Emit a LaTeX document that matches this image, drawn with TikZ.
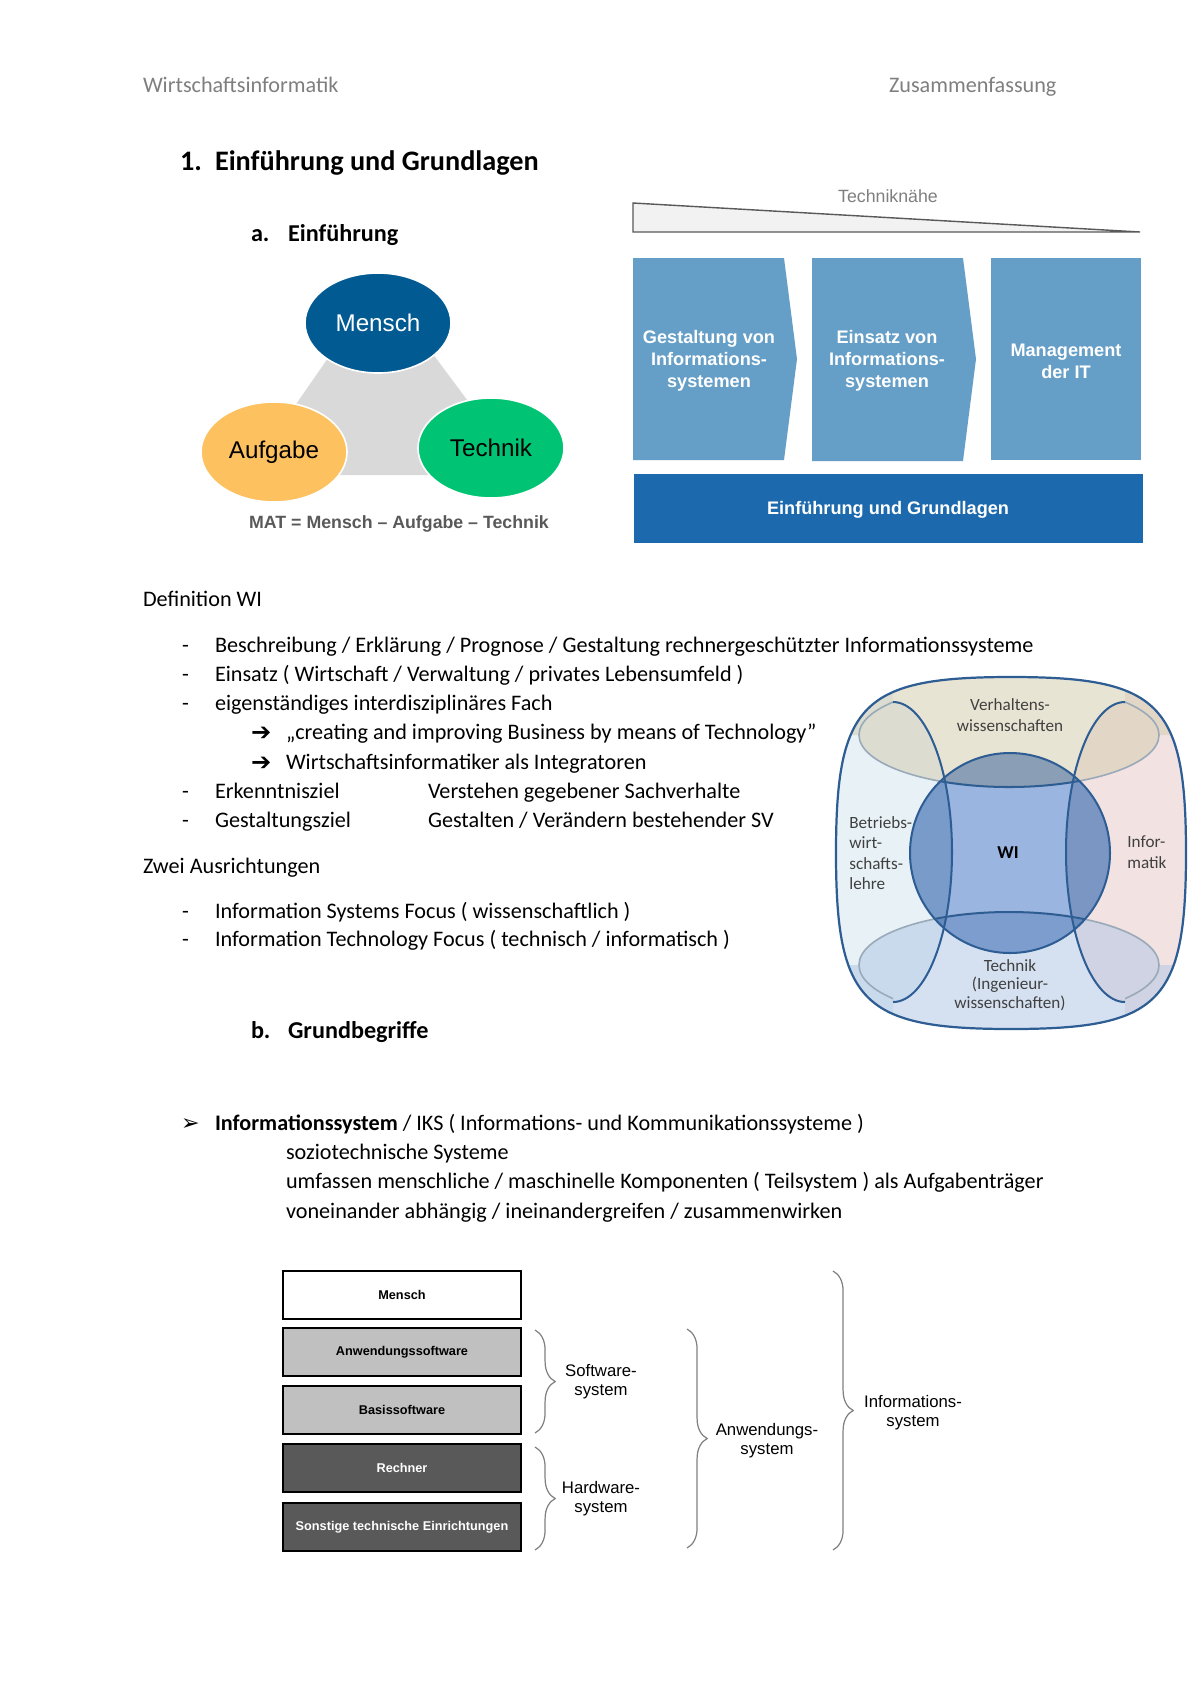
\documentclass[tikz,border=0pt]{standalone}
\usepackage{fontspec}
\setmainfont{Carlito}
\newfontfamily\arialf{Liberation Sans}
\newfontfamily\symf{DejaVu Sans}
\usetikzlibrary{shapes.geometric,decorations.pathreplacing}
\newcommand\pxu{0.4958pt}
\definecolor{hdrgray}{HTML}{7F7F7F}
\definecolor{menschblue}{HTML}{025A93}
\definecolor{aufgabeorange}{HTML}{FEC15F}
\definecolor{technikgreen}{HTML}{00C474}
\definecolor{trigray}{HTML}{D9D9D9}
\definecolor{matgray}{HTML}{595959}
\definecolor{boxblue}{HTML}{659FC7}
\definecolor{barblue}{HTML}{1C6AAD}
\definecolor{wedgefill}{HTML}{F2F2F2}
\definecolor{wedgeline}{HTML}{595959}
\definecolor{widark}{HTML}{2E5D94}
\definecolor{wilight}{HTML}{9AAAB8}
\definecolor{vwbeige}{HTML}{D3CBAB}
\definecolor{bwlblue}{HTML}{D1E5EF}
\definecolor{infpink}{HTML}{E7C7C7}
\definecolor{techblue}{HTML}{ADC5E5}
\definecolor{wicircle}{HTML}{5885CA}
\definecolor{vwdark}{HTML}{6E6A55}
\definecolor{witext}{HTML}{404040}
\definecolor{laygray}{HTML}{C0C0C0}
\definecolor{laydark}{HTML}{595959}
\definecolor{bracegray}{HTML}{808080}
\newcommand\wiouterpath{(1011,677) .. controls (1159.75,677) and (1186,703.4) .. (1186,853) .. controls (1186,1002.6) and (1159.75,1029) .. (1011,1029) .. controls (862.25,1029) and (836,1002.6) .. (836,853) .. controls (836,703.4) and (862.25,677) .. (1011,677) -- cycle}
\newcommand\topregion{(820,660) -- (1200,660) -- (1200,735) -- (1159,735) .. controls (1159,763.7) and (1091.8,787) .. (1009,787) .. controls (926.2,787) and (859,763.7) .. (859,735) -- (820,735) -- cycle}
\newcommand\botregion{(820,1045) -- (820,965) -- (859,965) .. controls (859,935.7) and (926.2,912) .. (1009,912) .. controls (1091.8,912) and (1159,935.7) .. (1159,965) -- (1200,965) -- (1200,1045) -- cycle}
\newcommand\leftregion{(820,660) -- (893,660) -- (893,702) .. controls (925.6,702) and (952,769.2) .. (952,852) .. controls (952,934.8) and (925.6,1002) .. (893,1002) -- (893,1045) -- (820,1045) -- cycle}
\newcommand\rightregion{(1200,660) -- (1125,660) -- (1125,702) .. controls (1092.4,702) and (1066,769.2) .. (1066,852) .. controls (1066,934.8) and (1092.4,1002) .. (1125,1002) -- (1125,1045) -- (1200,1045) -- cycle}
\newcommand\toparc{(1159,735) .. controls (1159,763.7) and (1091.8,787) .. (1009,787) .. controls (926.2,787) and (859,763.7) .. (859,735)}
\newcommand\toparcup{(859,735) .. controls (859,706.3) and (926.2,683) .. (1009,683) .. controls (1091.8,683) and (1159,706.3) .. (1159,735)}
\newcommand\botarc{(859,965) .. controls (859,935.7) and (926.2,912) .. (1009,912) .. controls (1091.8,912) and (1159,935.7) .. (1159,965)}
\newcommand\botarcdown{(1159,965) .. controls (1159,994.3) and (1091.8,1018) .. (1009,1018) .. controls (926.2,1018) and (859,994.3) .. (859,965)}
\newcommand\leftarc{(893,702) .. controls (925.6,702) and (952,769.2) .. (952,852) .. controls (952,934.8) and (925.6,1002) .. (893,1002)}
\newcommand\rightarc{(1125,702) .. controls (1092.4,702) and (1066,769.2) .. (1066,852) .. controls (1066,934.8) and (1092.4,1002) .. (1125,1002)}
\tikzset{
  body/.style={anchor=base west, inner sep=0pt, outer sep=0pt, font=\fontsize{11}{13}\selectfont},
  hdr/.style={body, text=hdrgray},
  hone/.style={body, font=\fontsize{14}{17}\selectfont\bfseries},
  htwo/.style={body, font=\fontsize{12}{14}\selectfont\bfseries},
  arrowsym/.style={body, font=\symf\fontsize{12}{13}\selectfont},
  matell/.style={ellipse, draw=white, line width=0.8pt, minimum width=146*\pxu, minimum height=100*\pxu, inner sep=0pt, font=\arialf\fontsize{12}{14}\selectfont},
  chevtxt/.style={align=center, text=white, inner sep=0pt, font=\arialf\bfseries\fontsize{9}{10.9}\selectfont},
  witxt/.style={inner sep=0pt, text=witext, font=\fontsize{8.5}{10.2}\selectfont},
  wiline/.style={widark, line width=1pt},
  wilightline/.style={wilight, line width=0.8pt},
  layer/.style={rectangle, draw=black, line width=1.4pt, minimum width=238*\pxu, minimum height=48*\pxu, inner sep=0pt, font=\arialf\bfseries\fontsize{6.3}{7.5}\selectfont},
  brc/.style={draw=bracegray, line width=0.6pt, decorate, decoration={brace, amplitude=10pt}},
  brctxt/.style={align=center, inner sep=0pt, font=\arialf\fontsize{8.3}{9.3}\selectfont},
}
\begin{document}
\begin{tikzpicture}[x=0.4958pt, y=-0.4958pt]
\useasboundingbox (0,0) rectangle (1200,1697);
\fill[white] (0,0) rectangle (1200,1697);

% header
\node[hdr] (hl) at (143,92) {Wirtschaftsinformatik};
\node[hdr] (hr) at (889,92) {Zusammenfassung};
\node[hone] (t1n) at (180,170) {1.};
\node[hone] (t1) at (215,170) {Einführung und Grundlagen};
\node[htwo] (t2n) at (251,241) {a.};
\node[htwo] (t2) at (288,241) {Einführung};

% MAT diagram
\fill[trigray] (380,283) -- (247,475) -- (523,475) -- cycle;
\node[matell, fill=menschblue, text=white] (mensch) at (378,323) {Mensch};
\node[matell, fill=aufgabeorange] (aufgabe) at (274,452) {Aufgabe};
\node[matell, fill=technikgreen] (technik) at (491,448) {Technik};
\node[inner sep=0pt, text=matgray, font=\arialf\bfseries\fontsize{8.8}{10}\selectfont] (mat) at (399,524) {MAT = Mensch – Aufgabe – Technik};

% Techniknaehe diagram
\filldraw[fill=wedgefill, draw=wedgeline, line width=0.7pt] (633,203) -- (1140,232) -- (633,232) -- cycle;
\node[inner sep=0pt, text=hdrgray, font=\arialf\fontsize{8.8}{10}\selectfont] (tn) at (888,196) {Techniknähe};
\fill[boxblue] (633,258) -- (784,258) -- (797,359) -- (784,460) -- (633,460) -- cycle;
\fill[boxblue] (812,258) -- (963,258) -- (976,359) -- (963,461) -- (812,461) -- cycle;
\fill[boxblue] (991,258) rectangle (1141,460);
\node[chevtxt] (c1) at (709,361) {Gestaltung von\\Informations-\\systemen};
\node[chevtxt] (c2) at (887,361) {Einsatz von\\Informations-\\systemen};
\node[chevtxt] (c3) at (1066,361) {Management\\der IT};
\fill[barblue] (634,474) rectangle (1143,543);
\node[chevtxt] (bar) at (888,510) {Einführung und Grundlagen};

% Definition text
\node[body] (d0) at (143,606) {Definition WI};
\node[body] (d1m) at (182,652) {-};
\node[body] (d1) at (215,652) {Beschreibung / Erklärung / Prognose / Gestaltung rechnergeschützter Informationssysteme};
\node[body] (d2m) at (182,681) {-};
\node[body] (d2) at (215,681) {Einsatz ( Wirtschaft / Verwaltung / privates Lebensumfeld )};
\node[body] (d3m) at (182,710) {-};
\node[body] (d3) at (215,710) {eigenständiges interdisziplinäres Fach};
\node[arrowsym] (d4m) at (251,740) {➔};
\node[body] (d4) at (286,739) {„creating and improving Business by means of Technology”};
\node[arrowsym] (d5m) at (251,770) {➔};
\node[body] (d5) at (286,769) {Wirtschaftsinformatiker als Integratoren};
\node[body] (d6m) at (182,798) {-};
\node[body] (d6) at (215,798) {Erkenntnisziel};
\node[body] (d6b) at (428,798) {Verstehen gegebener Sachverhalte};
\node[body] (d7m) at (182,827) {-};
\node[body] (d7) at (215,827) {Gestaltungsziel};
\node[body] (d7b) at (428,827) {Gestalten / Verändern bestehender SV};
\node[body] (z0) at (143,873) {Zwei Ausrichtungen};
\node[body] (z1m) at (182,918) {-};
\node[body] (z1) at (215,918) {Information Systems Focus ( wissenschaftlich )};
\node[body] (z2m) at (182,946) {-};
\node[body] (z2) at (215,946) {Information Technology Focus ( technisch / informatisch )};

% WI diagram
\fill[white] \wiouterpath;
\begin{scope}
\clip \wiouterpath;
\fill[bwlblue, fill opacity=0.5] \leftregion;
\fill[infpink, fill opacity=0.5] \rightregion;
\fill[vwbeige, fill opacity=0.5] \topregion;
\fill[techblue, fill opacity=0.5] \botregion;
\end{scope}
\node[circle, minimum size=200*\pxu, inner sep=0pt, fill=wicircle, fill opacity=0.6] (wi) at (1010,853) {};
\begin{scope}
\clip (wi.center) circle [radius=100*\pxu];
\fill[widark, fill opacity=0.25] \leftregion;
\fill[widark, fill opacity=0.25] \rightregion;
\fill[vwdark, fill opacity=0.2] \topregion;
\fill[widark, fill opacity=0.15] \botregion;
\end{scope}
% light ellipse outlines
\draw[wilightline] \toparc;
\draw[wilightline] \botarc;
\begin{scope}
\clip (830,660) rectangle (893,740) (1125,660) rectangle (1195,740);
\draw[wilightline] \toparcup;
\end{scope}
\begin{scope}
\clip (830,960) rectangle (893,1045) (1125,960) rectangle (1195,1045);
\draw[wilightline] \botarcdown;
\end{scope}
\begin{scope}
\clip (wi.center) circle [radius=100*\pxu];
\draw[wiline] \toparc;
\draw[wiline] \botarc;
\end{scope}
\draw[wiline] \leftarc;
\draw[wiline] \rightarc;
\draw[wiline] (wi.center) circle [radius=100*\pxu];
\draw[widark, line width=1.1pt] \wiouterpath;
\node[inner sep=0pt, text=black, font=\fontsize{9}{10}\selectfont\bfseries] (wil) at (1008,853) {WI};
\node[witxt, align=center] (vw) at (1010,715) {Verhaltens-\\wissenschaften};
\node[witxt, align=left, anchor=west] (bwl) at (849,853) {Betriebs-\\wirt-\\schafts-\\lehre};
\node[witxt, align=left, anchor=west] (inf) at (1127,852) {Infor-\\matik};
\node[witxt, align=center, font=\fontsize{8.5}{9.2}\selectfont] (tech) at (1010,985) {Technik\\(Ingenieur-\\wissenschaften)};

% Grundbegriffe
\node[htwo] (t3n) at (251,1038) {b.};
\node[htwo] (t3) at (288,1038) {Grundbegriffe};
\node[arrowsym, font=\symf\fontsize{11}{13}\selectfont] (g0m) at (181,1130) {➢};
\node[body] (g0) at (215,1130) {\textbf{Informationssystem} / IKS ( Informations- und Kommunikationssysteme )};
\node[body] (g1) at (286,1159) {soziotechnische Systeme};
\node[body] (g2) at (286,1188) {umfassen menschliche / maschinelle Komponenten ( Teilsystem ) als Aufgabenträger};
\node[body] (g3) at (286,1218) {voneinander abhängig / ineinandergreifen / zusammenwirken};

% layers
\node[layer, fill=white] (l1) at (402,1295) {Mensch};
\node[layer, fill=laygray] (l2) at (402,1352) {Anwendungssoftware};
\node[layer, fill=laygray] (l3) at (402,1410) {Basissoftware};
\node[layer, fill=laydark, text=white] (l4) at (402,1468) {Rechner};
\node[layer, fill=laydark, text=white] (l5) at (402,1527) {Sonstige technische Einrichtungen};

\coordinate (swt) at (535,1330);
\coordinate (swb) at (535,1433);
\coordinate (hwt) at (535,1447);
\coordinate (hwb) at (535,1550);
\coordinate (awt) at (687,1329);
\coordinate (awb) at (687,1548);
\coordinate (ist) at (833,1271);
\coordinate (isb) at (833,1550);
\draw[brc] (swt) -- (swb);
\draw[brc] (hwt) -- (hwb);
\draw[brc] (awt) -- (awb);
\draw[brc] (ist) -- (isb);
\node[brctxt] (sw) at (601,1382) {Software-\\system};
\node[brctxt] (hw) at (601,1499) {Hardware-\\system};
\node[brctxt] (aw) at (767,1441) {Anwendungs-\\system};
\node[brctxt] (is) at (913,1413) {Informations-\\system};
\end{tikzpicture}
\end{document}
